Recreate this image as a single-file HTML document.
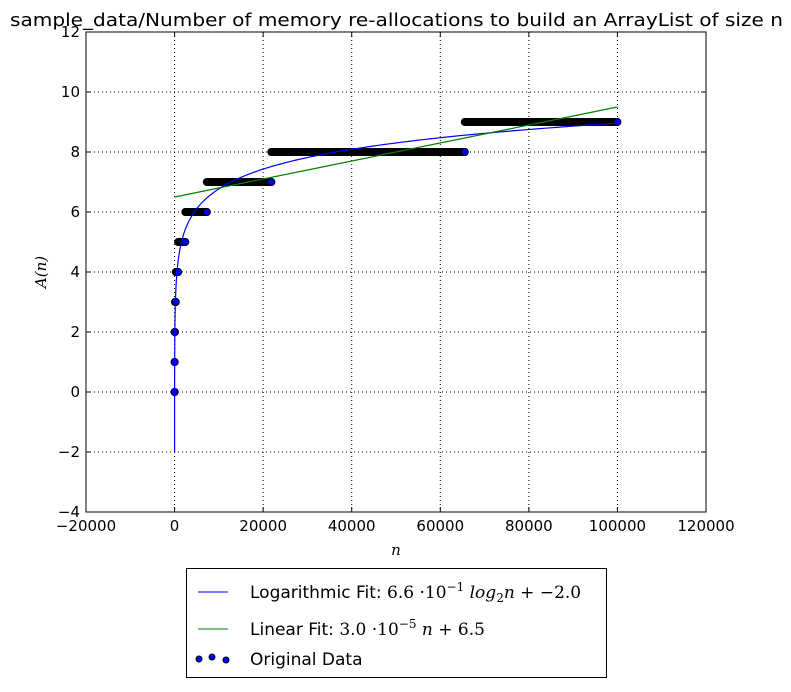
<!DOCTYPE html>
<html><head><meta charset="utf-8"><style>
body{margin:0;background:#fff;}
svg text{font-family:"DejaVu Sans","Liberation Sans",sans-serif;}
</style></head><body>
<svg id="c" width="791" height="687" xmlns="http://www.w3.org/2000/svg">
<rect width="791" height="687" fill="#fff"/>
<text x="10" y="26" font-size="18" textLength="773" lengthAdjust="spacingAndGlyphs">sample_data/Number of memory re-allocations to build an ArrayList of size n</text>
<g id="grid"></g><g id="series"></g><g id="axes"></g>
<text x="396" y="555" text-anchor="middle" font-size="15" font-style="italic" style="font-family:'DejaVu Serif','Liberation Serif',serif">n</text>
<text transform="translate(46,272) rotate(-90)" text-anchor="middle" font-size="15" font-style="italic" style="font-family:'DejaVu Serif','Liberation Serif',serif">A(n)</text>
<g>
<rect x="186.5" y="568.5" width="420" height="109" fill="#fff" stroke="#000"/>
<line x1="198" y1="592" x2="228" y2="592" stroke="#0000ff"/>
<text x="250" y="598" font-size="17">Logarithmic Fit: <tspan style="font-family:'DejaVu Serif',serif">6.6 ·10<tspan dy="-7" font-size="12">−1</tspan><tspan dy="7" font-style="italic"> log</tspan><tspan dy="4" font-size="12">2</tspan><tspan dy="-4" font-style="italic">n</tspan> + −2.0</tspan></text>
<line x1="198" y1="629" x2="228" y2="629" stroke="#008000"/>
<text x="250" y="635" font-size="17">Linear Fit: <tspan style="font-family:'DejaVu Serif',serif">3.0 ·10<tspan dy="-7" font-size="12">−5</tspan><tspan dy="7" font-style="italic"> n</tspan> + 6.5</tspan></text>
<circle cx="199" cy="659" r="3" fill="#0000ff" stroke="#000"/><circle cx="212" cy="657" r="3" fill="#0000ff" stroke="#000"/><circle cx="226" cy="660" r="3" fill="#0000ff" stroke="#000"/>
<text x="250" y="665" font-size="17">Original Data</text>
</g>
</svg>
<script>
const xTicks=[-20000,0,20000,40000,60000,80000,100000,120000];
const yTicks=[-4,-2,0,2,4,6,8,10,12];
const levels=[0,1,2,3,4,5,6,7,8,9];
const levelStarts=[0,10,30,90,270,809,2427,7282,21845,65536];
const nMax=100000;
const logCoef=[0.66,-2.0];
const linCoef=[3.0e-5,6.5];
const L=86,R=706,T=32,B=512;
const xs=v=>L+(v+20000)/140000*(R-L);
const ys=v=>B-(v+4)/16*(B-T);
const NS='http://www.w3.org/2000/svg';
function mk(t,a,p){const e=document.createElementNS(NS,t);for(const k in a)e.setAttribute(k,a[k]);p.appendChild(e);return e;}
const grid=document.getElementById('grid'),ser=document.getElementById('series'),ax=document.getElementById('axes');
xTicks.forEach(v=>{
 const x=xs(v);
 if(v>-20000&&v<120000){const g=mk('line',{x1:x,x2:x,y1:T,y2:B,stroke:'#000','stroke-dasharray':'1,3'},grid);
 
 }
 mk('line',{x1:x,x2:x,y1:B,y2:B-5,stroke:'#000'},ax);mk('line',{x1:x,x2:x,y1:T,y2:T+5,stroke:'#000'},ax);
 const t=mk('text',{x:x,y:B+19,'text-anchor':'middle','font-size':15},ax);t.textContent=String(v).replace('-','−');
 
 
});
yTicks.forEach(v=>{
 const y=ys(v);
 if(v>-4&&v<12){const g=mk('line',{x1:L,x2:R,y1:y,y2:y,stroke:'#000','stroke-dasharray':'1,3'},grid);
 
 }
 mk('line',{x1:L,x2:L+5,y1:y,y2:y,stroke:'#000'},ax);mk('line',{x1:R,x2:R-5,y1:y,y2:y,stroke:'#000'},ax);
 const t=mk('text',{x:L-6,y:y+5,'text-anchor':'end','font-size':15},ax);t.textContent=String(v).replace('-','−');
 
 
});
const fr=mk('rect',{x:L,y:T,width:R-L,height:B-T,fill:'none',stroke:'#000'},ax);


const pts=mk('g',{},ser);


levels.forEach((lv,i)=>{
 const s=levelStarts[i],e=(i+1<levelStarts.length?levelStarts[i+1]-1:nMax);
 const ns=[s];for(let n=s+150;n<e;n+=150)ns.push(n);ns.push(e);
 ns.forEach(n=>{const c=mk('circle',{cx:xs(n),cy:ys(lv),r:3.5,fill:'#0000ff',stroke:'#000','stroke-width':1},pts);
 
 });
});
let d='';
for(let k=0;k<=400;k++){const n=Math.pow(nMax,k/400);const v=logCoef[0]*Math.log2(n)+logCoef[1];d+=(k?'L':'M')+xs(n).toFixed(2)+','+ys(v).toFixed(2);}
const lp=mk('path',{d:d,fill:'none',stroke:'#0000ff','stroke-width':1.2},ser);


const ln=mk('line',{x1:xs(0),y1:ys(linCoef[1]),x2:xs(nMax),y2:ys(linCoef[0]*nMax+linCoef[1]),stroke:'#008000','stroke-width':1.2},ser);


</script>
</body></html>
